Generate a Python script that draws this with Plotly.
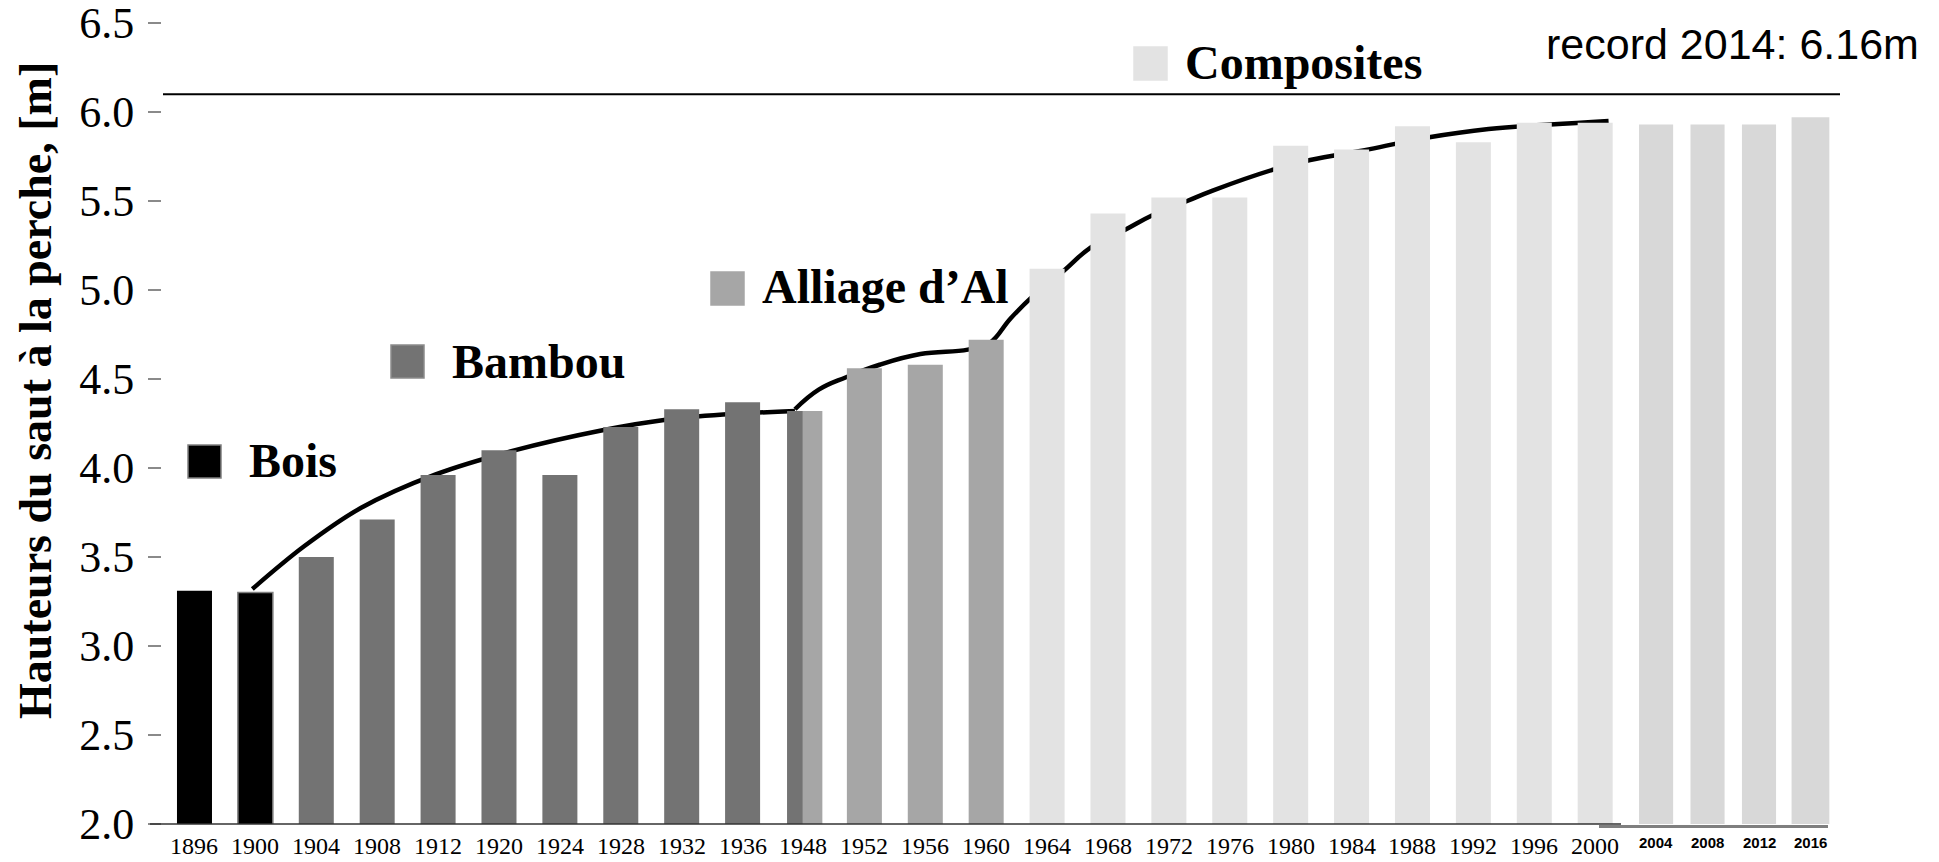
import plotly.graph_objects as go

# ---------------- data ----------------
years = ["1896", "1900", "1904", "1908", "1912", "1920", "1924", "1928", "1932", "1936",
         "1948", "1952", "1956", "1960", "1964", "1968", "1972", "1976", "1980", "1984",
         "1988", "1992", "1996", "2000", "2004", "2008", "2012", "2016"]
heights = [3.31, 3.30, 3.50, 3.71, 3.96, 4.10, 3.96, 4.23, 4.33, 4.37,
           4.32, 4.56, 4.58, 4.72, 5.12, 5.43, 5.52, 5.52, 5.81, 5.79,
           5.92, 5.83, 5.94, 5.94, 5.93, 5.93, 5.93, 5.97]
materials = ["Bois", "Bois", "Bambou", "Bambou", "Bambou", "Bambou", "Bambou", "Bambou", "Bambou", "Bambou",
             "Bambou/Alliage d’Al", "Alliage d’Al", "Alliage d’Al", "Alliage d’Al",
             "Composites", "Composites", "Composites", "Composites", "Composites", "Composites",
             "Composites", "Composites", "Composites", "Composites",
             "Composites", "Composites", "Composites", "Composites"]
added_editions = ["2004", "2008", "2012", "2016"]
legend_labels = ["Bois", "Bambou", "Alliage d’Al", "Composites"]
record_value = 6.10
record_text = "record 2014: 6.16m"
y_title = "Hauteurs du saut à la perche, [m]"

# envelope curve (x in category slots, y in metres)
curve1_x = [0.95, 1.8, 2.73, 3.96, 5.22, 6.74, 7.71, 8.68, 9.86]
curve1_y = [3.32, 3.56, 3.775, 3.964, 4.096, 4.215, 4.27, 4.30, 4.32]
curve2_x = [9.86, 10.25, 10.70, 11.25, 11.92, 12.70, 13.05, 13.40, 13.75, 14.28, 14.72, 15.29,
            15.73, 16.30, 16.73, 17.75, 18.32, 19.28, 20.25, 21.25, 22.26, 23.22]
curve2_y = [4.33, 4.44, 4.51, 4.58, 4.64, 4.665, 4.70, 4.84, 4.96, 5.11, 5.24, 5.34,
            5.42, 5.50, 5.56, 5.68, 5.73, 5.79, 5.857, 5.905, 5.93, 5.95]

# ---------------- styles / layout ----------------
W, H = 1939, 862
PL, PR, PT, PB = 163, 1840, 23, 824          # plot area in pixels
X_LO, X_HI = -0.517, 27.02                    # slot range
colors = {"Bois": "#000000", "Bambou": "#737373", "Alliage d’Al": "#a6a6a6",
          "Composites": "#e3e3e3", "added": "#d8d8d8"}
SERIF = "Liberation Serif, Times New Roman, serif"


def px_x(p):
    return (p - PL) / (PR - PL)


def px_y(p):
    return (PB - p) / (PB - PT)


# slot positions: regular spacing, tighter spacing for the added editions
slots = []
for i, yr in enumerate(years):
    if yr in added_editions:
        k = added_editions.index(yr)
        slots.append(24 + k * 0.845)
    else:
        slots.append(float(i))

widths = []
for yr in years:
    if yr == added_editions[-1]:
        widths.append(0.62)
    elif yr in added_editions:
        widths.append(0.56)
    else:
        widths.append(0.575)

fig = go.Figure()

# curve (behind bars)
for cx, cy, sm in ((curve1_x, curve1_y, 1.0), (curve2_x, curve2_y, 1.2)):
    fig.add_trace(go.Scatter(x=cx, y=cy, mode="lines",
                             line=dict(color="black", width=4.5, shape="spline", smoothing=sm),
                             hoverinfo="skip", showlegend=False, zorder=0))

# bars grouped by material
groups = {}
for yr, h, m, s, w in zip(years, heights, materials, slots, widths):
    if "/" in m:
        a, b = m.split("/")
        groups.setdefault(a, []).append((yr, h, s, 0.26, -0.27))
        groups.setdefault(b, []).append((yr, h, s, 0.32, -0.01))
    elif m == "Composites" and yr in added_editions:
        groups.setdefault("added", []).append((yr, h, s, w, -w / 2))
    else:
        groups.setdefault(m, []).append((yr, h, s, w, -w / 2))

for key, items in groups.items():
    line_col = [("#808080" if (key == "Bois" and it[0] == "1900") else colors[key]) for it in items]
    line_w = [(1.5 if (key == "Bois" and it[0] == "1900") else 0) for it in items]
    fig.add_trace(go.Bar(
        x=[it[2] for it in items], y=[it[1] for it in items],
        width=[it[3] for it in items], offset=[it[4] for it in items],
        marker=dict(color=colors[key], line=dict(color=line_col, width=line_w)),
        hovertext=[it[0] for it in items], showlegend=False, zorder=1))

shapes = []
annotations = []

# record line
shapes.append(dict(type="line", xref="paper", yref="y", x0=0, x1=1,
                   y0=record_value, y1=record_value, line=dict(color="black", width=2)))
# x axis lines
shapes.append(dict(type="line", xref="paper", yref="paper", x0=px_x(150), x1=px_x(1621),
                   y0=0, y1=0, line=dict(color="#333333", width=1.5)))
shapes.append(dict(type="line", xref="paper", yref="paper", x0=px_x(1599), x1=px_x(1828),
                   y0=px_y(826.5), y1=px_y(826.5), line=dict(color="#7f7f7f", width=3)))

# x labels
for yr, s in zip(years, slots):
    if yr in added_editions:
        annotations.append(dict(x=s, xref="x", y=px_y(842), yref="paper", text=yr,
                                showarrow=False, xanchor="center", yanchor="middle",
                                font=dict(family="Liberation Sans Narrow, Arial Narrow, Liberation Sans, sans-serif",
                                          size=15, color="black", weight="bold")))
    else:
        annotations.append(dict(x=s, xref="x", y=px_y(846), yref="paper", text=yr,
                                showarrow=False, xanchor="center", yanchor="middle",
                                font=dict(family=SERIF, size=24, color="black")))

# legend boxes + labels
legend_pos = [  # (box x0, box y0, size, text x, text y center)
    (188, 445, 33, 247, 460),
    (391, 345, 33, 450, 361),
    (711, 272, 33, 760, 286),
    (1134, 47, 33, 1183, 62),
]
legend_border = {"Bois": "#808080", "Bambou": "#8c8c8c", "Alliage d’Al": "#a6a6a6", "Composites": "#e3e3e3"}
for lab, (bx, by, sz, tx, ty) in zip(legend_labels, legend_pos):
    shapes.append(dict(type="rect", xref="paper", yref="paper",
                       x0=px_x(bx), x1=px_x(bx + sz), y0=px_y(by + sz), y1=px_y(by),
                       fillcolor=colors[lab], line=dict(color=legend_border[lab], width=1.5)))
    annotations.append(dict(x=px_x(tx), xref="paper", y=px_y(ty), yref="paper", text=lab,
                            showarrow=False, xanchor="left", yanchor="middle",
                            font=dict(family=SERIF, size=48, color="black", weight="bold")))

# record text
annotations.append(dict(x=px_x(1921), xref="paper", y=px_y(44), yref="paper", text=record_text,
                        showarrow=False, xanchor="right", yanchor="middle",
                        font=dict(family="Liberation Sans, Arial, sans-serif", size=43, color="black")))

# y title
annotations.append(dict(x=px_x(35), xref="paper", y=px_y(391), yref="paper", text=y_title,
                        showarrow=False, xanchor="center", yanchor="middle", textangle=-90,
                        font=dict(family=SERIF, size=46, color="black", weight="bold")))

fig.update_layout(
    width=W, height=H,
    margin=dict(l=PL, r=W - PR, t=PT, b=H - PB, pad=0, autoexpand=False),
    paper_bgcolor="white", plot_bgcolor="white",
    barmode="overlay",
    showlegend=False,
    shapes=shapes, annotations=annotations,
    xaxis=dict(range=[X_LO, X_HI], showticklabels=False, ticks="", showline=False,
               showgrid=False, zeroline=False, fixedrange=True, automargin=False),
    yaxis=dict(range=[2.0, 6.5], dtick=0.5, tick0=2.0, tickformat=".1f",
               showline=True, linecolor="#999999", linewidth=2,
               ticks="outside", ticklen=13, tickwidth=2, tickcolor="#8a8a8a",
               ticklabelstandoff=5, automargin=False, ticklabeloverflow="allow",
               showgrid=False, zeroline=False,
               tickfont=dict(family=SERIF, size=44, color="black")),
)

fig.write_html("out.html", config={"displayModeBar": False},
               post_script="document.body.style.margin='0px';")
